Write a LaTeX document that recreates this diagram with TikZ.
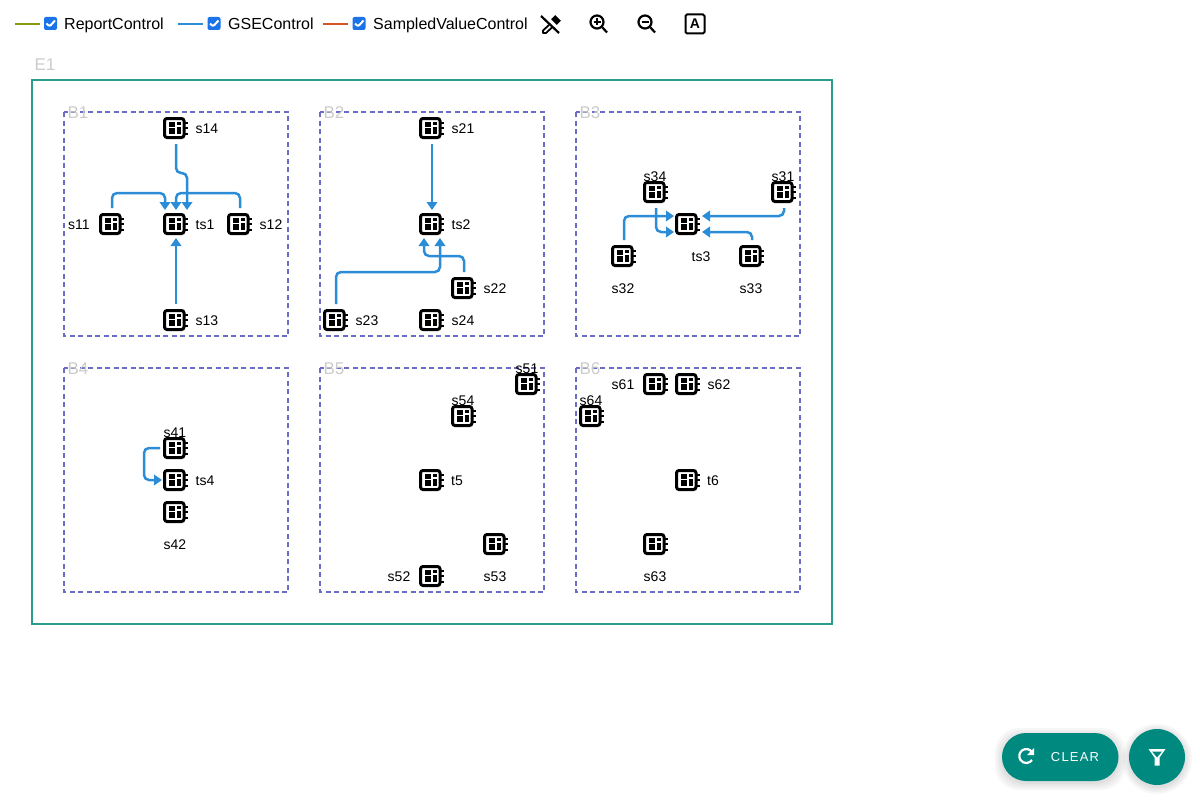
\documentclass[tikz,border=0pt]{standalone}
\usepackage{fontspec}
\setmainfont{Liberation Sans}
\newfontfamily\btnfont[LetterSpace=9]{Liberation Sans}
\usetikzlibrary{arrows.meta}
\definecolor{gsecol}{HTML}{2B8CD8}
\definecolor{rptcol}{HTML}{8A9A10}
\definecolor{svcol}{HTML}{D4532B}
\definecolor{baycol}{HTML}{6C6CC8}
\definecolor{subcol}{HTML}{2A9D8F}
\definecolor{chkcol}{HTML}{1A73E8}
\definecolor{btncol}{HTML}{00897F}
\tikzset{
  x=1pt,y=-1pt,
  txt/.style={font=\fontsize{14}{16}\selectfont,inner sep=0pt},
  legend/.style={font=\fontsize{16}{18}\selectfont,inner sep=0pt,anchor=base west},
  grey/.style={font=\fontsize{17}{19}\selectfont,text=black!20,inner sep=0pt},
  subst/.style={draw=subcol,line width=1.7pt},
  bay/.style={draw=baycol,line width=1.7pt,dash pattern=on 5pt off 3.5pt},
  chip/.style={minimum size=27pt,inner sep=0pt,outer sep=.5pt,path picture={
    \begin{scope}[shift={(path picture bounding box.center)}]
      \draw[line width=3pt,rounded corners=2.5pt,fill=white] (-11.5,-9.5) rectangle (8,9.5);
      \fill (-7.5,-6.5) rectangle (-1,-1.5);
      \fill (-7.5,0) rectangle (-1,6);
      \fill (.5,-6.5) rectangle (5,-3);
      \fill (.5,-1.5) rectangle (5,6);
      \foreach \p in {-5.5,0,5.5}
        \fill (9,\p-1) rectangle (12,\p+1);
    \end{scope}}},
  gse/.style={draw=gsecol,line width=2.5pt,rounded corners=5pt,shorten <=2pt,
    -{Triangle[length=8pt,width=10.5pt]}},
  ctrl/.style={line width=2.5pt},
  tick/.style={fill=chkcol,rounded corners=2pt,minimum size=13pt,inner sep=0pt,path picture={
    \draw[white,line width=2pt] ([shift={(-4,0)}]path picture bounding box.center)
      -- ++(3,3) -- ++(5.5,-6);}},
  btn/.style={fill=btncol},
}
\begin{document}
\begin{tikzpicture}
\useasboundingbox (0,0) rectangle (1200,800);
\fill[white] (0,0) rectangle (1200,800);
% legend
\draw[ctrl,rptcol] (15,24) -- (40,24);
\node[tick] (chkrpt) at (50.5,23.5) {};
\node[legend] (lblrpt) at (64,30) {ReportControl};
\draw[ctrl,gsecol] (178,24) -- (203,24);
\node[tick] (chkgse) at (214,23.5) {};
\node[legend] (lblgse) at (228,30) {GSEControl};
\draw[ctrl,svcol] (323,24) -- (348,24);
\node[tick] (chksv) at (359,23.5) {};
\node[legend] (lblsv) at (373,30) {SampledValueControl};
% toolbar
\draw[line width=2.2pt] (541,16) -- (559,33);
\draw[line width=1.8pt,line join=round] (549,25) -- (543,30.5) -- (543,33) -- (546,33) -- (553,26.5);
\fill[rotate around={-45:(556,20)}] (552,17) rectangle (560,23);
\node[circle,draw,line width=2.2pt,minimum size=13pt,inner sep=0pt] (zoomin) at (597,22) {};
\draw[line width=2.2pt] (zoomin.south east) -- (607,32.5);
\draw[line width=1.6pt] (593.5,22) -- (600.5,22) (597,18.5) -- (597,25.5);
\node[circle,draw,line width=2.2pt,minimum size=13pt,inner sep=0pt] (zoomout) at (645,22) {};
\draw[line width=2.2pt] (zoomout.south east) -- (655,32.5);
\draw[line width=1.6pt] (641.5,22) -- (648.5,22);
\node[draw,line width=2pt,rounded corners=1.5pt,minimum size=19pt,inner sep=0pt,font=\bfseries\fontsize{14}{14}\selectfont] (showtxt) at (695,24) {A};
% substation and bays
\draw[subst] (32,80) rectangle (832,624);
\node[grey] (E1) at (45,65) {E1};
\foreach \n/\x/\y in {B1/64/112,B2/320/112,B3/576/112,B4/64/368,B5/320/368,B6/576/368}{
  \draw[bay] (\x,\y) rectangle ++(224,224);
  \node[grey] (\n) at (\x+14,\y+1) {\n};
}
% chips
\foreach \n/\x/\y/\lx/\ly in {
  s14/176/128/207/128,ts1/176/224/205/224,s11/112/224/79/224,s12/240/224/271/224,s13/176/320/207/320,
  s21/432/128/463/128,ts2/432/224/461/224,s22/464/288/495/288,s23/336/320/367/320,s24/432/320/463/320,
  s34/656/192/655/176,s31/784/192/783/176,ts3/688/224/701/256,s32/624/256/623/288,s33/752/256/751/288,
  s41/176/448/175/432,ts4/176/480/205/480,s42/176/512/175/544,
  s51/528/384/527/368,s54/464/416/463/400,t5/432/480/457/480,s53/496/544/495/576,s52/432/576/399/576,
  s61/656/384/623/384,s62/688/384/719/384,s64/592/416/591/400,t6/688/480/713/480,s63/656/544/655/576}{
  \node[txt] (l\n) at (\lx,\ly+1) {\n};
  \node[chip] (\n) at (\x,\y) {};
}
% connections
\draw[gse] (s14.south) -- ++(0,31) -- ++(11,0) -- ([xshift=11pt]ts1.north);
\draw[gse] (s11.north) -- ++(0,-17) -- ++(53,0) -- ([xshift=-11pt]ts1.north);
\draw[gse] (s12.north) -- ++(0,-17) -- ++(-64,0) -- (ts1.north);
\draw[gse] (s13.north) -- (ts1.south);
\draw[gse] (s21.south) -- (ts2.north);
\draw[gse] (s22.north) -- ++(0,-18) -- ++(-40,0) -- ([xshift=-8pt]ts2.south);
\draw[gse] (s23.north) -- ++(0,-34) -- ++(104,0) -- ([xshift=8pt]ts2.south);
\draw[gse] (s34.south) -- ++(0,26) -- ([yshift=-8pt]ts3.west);
\draw[gse] (s32.north) -- ++(0,-26) -- ([yshift=8pt]ts3.west);
\draw[gse] (s31.south) -- ++(0,10) -- ([yshift=8pt]ts3.east);
\draw[gse] (s33.north) -- ++(0,-10) -- ([yshift=-8pt]ts3.east);
\draw[gse] (s41.west) -- ++(-18,0) -- ++(0,32) -- (ts4.west);
% buttons
\foreach \s in {7,5,3,1}{
  \fill[black,opacity=.03,rounded corners=24pt] (1002-\s,735-\s) rectangle (1118.5+\s,783+\s);
  \fill[black,opacity=.03] (1157,759) circle (28+\s);
}
\node[btn,rounded corners=24pt,minimum width=116.5pt,minimum height=48pt,inner sep=0pt] (clearbtn) at (1060.25,757) {};
\node[text=white,inner sep=0pt,font=\btnfont\fontsize{13}{13}\selectfont] (cleartxt) at (1075,757.5) {CLEAR};
\draw[white,line width=2.2pt] (1032,752) arc[start angle=-35,end angle=-325,radius=7];
\fill[white] (1034,748) -- (1034,755) -- (1027,755) -- cycle;
\node[btn,circle,minimum size=56pt,inner sep=0pt] (filterbtn) at (1157,757) {};
\fill[white] (1148.5,749) -- (1165.5,749) -- (1159.5,757.5) -- (1159.5,765.5) -- (1154.5,765.5) -- (1154.5,757.5) -- cycle;
\fill[btncol] (1152,751.5) -- (1162,751.5) -- (1157,757.5) -- cycle;
\end{tikzpicture}
\end{document}
